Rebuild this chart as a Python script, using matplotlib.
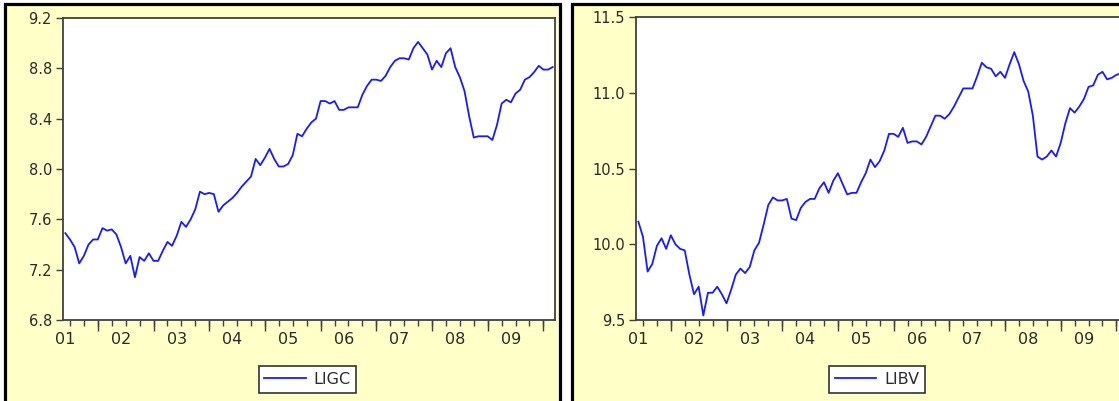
import numpy as np
import matplotlib
matplotlib.use('Agg')
import matplotlib.pyplot as plt
from matplotlib.patches import Rectangle

# monthly series, 2001M01 - 2009M10
ligc = [7.49, 7.44, 7.38, 7.25, 7.31, 7.40, 7.44, 7.44, 7.53, 7.51, 7.52, 7.48,
        7.38, 7.25, 7.31, 7.14, 7.30, 7.27, 7.33, 7.27, 7.27, 7.35, 7.42, 7.39,
        7.47, 7.58, 7.54, 7.60, 7.68, 7.82, 7.80, 7.81, 7.80, 7.66, 7.71, 7.74,
        7.77, 7.81, 7.86, 7.90, 7.94, 8.08, 8.03, 8.09, 8.16, 8.08, 8.02, 8.02,
        8.04, 8.11, 8.28, 8.26, 8.32, 8.37, 8.40, 8.54, 8.54, 8.52, 8.54, 8.47,
        8.47, 8.49, 8.49, 8.49, 8.59, 8.66, 8.71, 8.71, 8.70, 8.74, 8.81, 8.86,
        8.88, 8.88, 8.87, 8.96, 9.01, 8.96, 8.91, 8.79, 8.86, 8.81, 8.92, 8.96,
        8.81, 8.73, 8.62, 8.42, 8.25, 8.26, 8.26, 8.26, 8.23, 8.35, 8.52, 8.55,
        8.53, 8.60, 8.63, 8.71, 8.73, 8.77, 8.82, 8.79, 8.79, 8.81]

libv = [10.15, 10.05, 9.82, 9.87, 9.99, 10.04, 9.97, 10.06, 10.00, 9.97, 9.96, 9.80,
        9.67, 9.72, 9.53, 9.68, 9.68, 9.72, 9.67, 9.61, 9.70, 9.80, 9.84, 9.81,
        9.85, 9.96, 10.01, 10.13, 10.26, 10.31, 10.29, 10.29, 10.30, 10.17, 10.16, 10.24,
        10.28, 10.30, 10.30, 10.37, 10.41, 10.34, 10.42, 10.47, 10.40, 10.33, 10.34, 10.34,
        10.41, 10.47, 10.56, 10.51, 10.55, 10.62, 10.73, 10.73, 10.71, 10.77, 10.67, 10.68,
        10.68, 10.66, 10.71, 10.78, 10.85, 10.85, 10.83, 10.86, 10.91, 10.97, 11.03, 11.03,
        11.03, 11.11, 11.20, 11.17, 11.16, 11.11, 11.14, 11.10, 11.19, 11.27, 11.19, 11.08,
        11.01, 10.85, 10.58, 10.56, 10.58, 10.62, 10.58, 10.67, 10.80, 10.90, 10.87, 10.91,
        10.96, 11.04, 11.05, 11.12, 11.14, 11.09, 11.10, 11.12, 11.13, 11.14]

year_labels = ['01', '02', '03', '04', '05', '06', '07', '08', '09']
ligc_ticks = [6.8, 7.2, 7.6, 8.0, 8.4, 8.8, 9.2]
libv_ticks = [9.5, 10.0, 10.5, 11.0, 11.5]

W, H = 1119, 401
yellow = '#ffffc8'
dark = '#2a2a2a'
fig = plt.figure(figsize=(W / 100, H / 100), dpi=100)
fig.patch.set_facecolor('white')

# yellow panel frames
for x0, w in [(4.5, 556), (571.5, 560)]:
    fig.add_artist(Rectangle((x0 / W, -0.05), w / W, 1.05 - 4 / H,
                             transform=fig.transFigure, fc=yellow,
                             ec='black', lw=2.3, zorder=0))


def panel(left, top, series, name, ylim, yticks, fmt, legend_cx):
    n = len(series)
    x = np.arange(n)
    ax = fig.add_axes([left / W, 1 - 320 / H, 492 / W, (320 - top) / H])
    ax.set_facecolor('white')
    ax.plot(x, series, color='#1a1aff', lw=1.3, label=name)
    ax.set_xlim(-0.5, n - 0.5)
    ax.set_ylim(*ylim)
    for s in ax.spines.values():
        s.set_color('#404040')
        s.set_linewidth(1.3)

    ax.set_yticks(yticks)
    ax.set_yticklabels([fmt % v for v in yticks])
    ax.tick_params(axis='y', length=5, width=1, color='#404040', pad=3,
                   labelsize=10.5, labelcolor=dark)

    # year labels, quarterly ticks, long tick at mid-year
    ax.set_xticks(np.arange(0, n, 12))
    ax.set_xticklabels(year_labels)
    ax.tick_params(axis='x', which='major', length=0, pad=9,
                   labelsize=11.5, labelcolor=dark)
    quarters = [m for m in range(n) if m % 3 == 1]
    ax.set_xticks(quarters, minor=True)
    ax.tick_params(axis='x', which='minor', length=4, width=1, color='#404040')
    sec = ax.secondary_xaxis('bottom')
    sec.set_xticks([m for m in range(n) if m % 12 == 7])
    sec.tick_params(length=8, width=1, color='#404040', labelbottom=False)
    sec.spines['bottom'].set_visible(False)

    leg = ax.legend(loc='center', bbox_to_anchor=(legend_cx / W, 21.5 / H),
                    bbox_transform=fig.transFigure, fancybox=False,
                    edgecolor='#333333', framealpha=1, handlelength=2.6,
                    handletextpad=0.5, borderpad=0.35, fontsize=11.5)
    leg.get_frame().set_linewidth(1.2)
    for t in leg.get_texts():
        t.set_color(dark)
    return ax


panel(63, 18, ligc, 'LIGC', (6.8, 9.2), ligc_ticks, '%.1f', 307.5)
panel(636, 17.3, libv, 'LIBV', (9.5, 11.5), libv_ticks, '%.1f', 877)

fig.savefig('out.png', dpi=100)
